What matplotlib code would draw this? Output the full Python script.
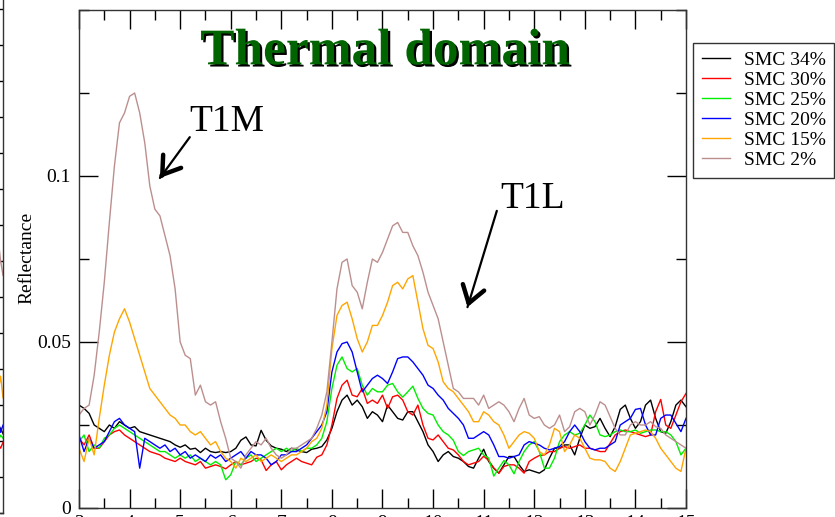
import numpy as np
import matplotlib
matplotlib.use("Agg")
import matplotlib.pyplot as plt
import matplotlib.patheffects as pe
from matplotlib.ticker import MultipleLocator

plt.rcParams["font.family"] = ["Liberation Serif", "DejaVu Serif"]

# Wavelength grid (micrometres)
wavelength = np.round(np.arange(3.0, 15.0001, 0.1), 1)

smc_34 = [
    0.031, 0.030, 0.0285, 0.025, 0.024, 0.023, 0.025, 0.024, 0.026, 0.025,
    0.024, 0.0245, 0.023, 0.0225, 0.022, 0.0215, 0.021, 0.0205, 0.020, 0.019,
    0.0183, 0.019, 0.0177, 0.018, 0.0167, 0.018, 0.017, 0.0167, 0.017, 0.0167,
    0.017, 0.018, 0.0204, 0.0214, 0.019, 0.0187, 0.0234, 0.0204, 0.0187, 0.018,
    0.0177, 0.017, 0.018, 0.0175, 0.017, 0.0167, 0.0177, 0.018, 0.0185, 0.0205,
    0.024, 0.029, 0.0325, 0.034, 0.031, 0.0325, 0.0305, 0.027, 0.029, 0.028,
    0.026, 0.031, 0.029, 0.027, 0.0265, 0.029, 0.029, 0.026, 0.023, 0.019,
    0.017, 0.014, 0.016, 0.017, 0.0155, 0.015, 0.014, 0.0125, 0.012, 0.015,
    0.0177, 0.014, 0.012, 0.0105, 0.013, 0.0155, 0.0155, 0.013, 0.011, 0.0115,
    0.011, 0.0105, 0.0115, 0.015, 0.018, 0.018, 0.019, 0.019, 0.016, 0.021,
    0.025, 0.024, 0.0245, 0.027, 0.024, 0.0215, 0.0245, 0.0297, 0.031, 0.027,
    0.024, 0.026, 0.031, 0.0325, 0.027, 0.023, 0.0225, 0.026, 0.031, 0.0325,
    0.0305,
]

smc_30 = [
    0.021, 0.019, 0.022, 0.018, 0.018, 0.020, 0.022, 0.023, 0.0235, 0.022,
    0.021, 0.020, 0.019, 0.018, 0.017, 0.0165, 0.016, 0.015, 0.0145, 0.014,
    0.015, 0.014, 0.0135, 0.013, 0.014, 0.012, 0.0125, 0.013, 0.0125, 0.0118,
    0.013, 0.014, 0.013, 0.0135, 0.014, 0.015, 0.0145, 0.0113, 0.013, 0.014,
    0.0115, 0.013, 0.014, 0.015, 0.014, 0.0135, 0.013, 0.0153, 0.016, 0.019,
    0.025, 0.033, 0.037, 0.0385, 0.034, 0.0335, 0.036, 0.0315, 0.0325, 0.0315,
    0.034, 0.030, 0.0335, 0.034, 0.0325, 0.029, 0.028, 0.031, 0.025, 0.021,
    0.0205, 0.022, 0.020, 0.018, 0.0175, 0.016, 0.014, 0.013, 0.0135, 0.014,
    0.0156, 0.0143, 0.012, 0.0105, 0.0125, 0.013, 0.013, 0.012, 0.0105, 0.014,
    0.015, 0.0158, 0.016, 0.017, 0.017, 0.018, 0.0185, 0.018, 0.0185, 0.019,
    0.018, 0.018, 0.0175, 0.017, 0.017, 0.0195, 0.022, 0.023, 0.0235, 0.023,
    0.0225, 0.022, 0.0215, 0.022, 0.029, 0.0327, 0.025, 0.024, 0.028, 0.032,
    0.0345,
]

smc_25 = [
    0.020, 0.022, 0.017, 0.019, 0.018, 0.021, 0.022, 0.024, 0.025, 0.024,
    0.023, 0.022, 0.021, 0.020, 0.019, 0.018, 0.017, 0.017, 0.016, 0.015,
    0.016, 0.015, 0.016, 0.014, 0.015, 0.014, 0.013, 0.014, 0.013, 0.0085,
    0.010, 0.014, 0.013, 0.015, 0.016, 0.014, 0.015, 0.016, 0.017, 0.018,
    0.017, 0.018, 0.017, 0.018, 0.017, 0.018, 0.018, 0.019, 0.021, 0.026,
    0.036, 0.043, 0.0455, 0.042, 0.041, 0.042, 0.037, 0.034, 0.036, 0.035,
    0.035, 0.037, 0.0375, 0.035, 0.0334, 0.035, 0.0367, 0.033, 0.030, 0.0285,
    0.028, 0.025, 0.023, 0.022, 0.0204, 0.017, 0.0158, 0.017, 0.0175, 0.018,
    0.016, 0.015, 0.0096, 0.012, 0.0143, 0.013, 0.0103, 0.014, 0.017, 0.019,
    0.020, 0.017, 0.012, 0.012, 0.015, 0.020, 0.022, 0.023, 0.022, 0.0225,
    0.025, 0.028, 0.026, 0.022, 0.0215, 0.022, 0.023, 0.0235, 0.023, 0.023,
    0.0235, 0.0225, 0.023, 0.0235, 0.0235, 0.023, 0.023, 0.022, 0.020, 0.016,
    0.018,
]

smc_20 = [
    0.022, 0.017, 0.021, 0.018, 0.019, 0.020, 0.023, 0.026, 0.027, 0.025,
    0.024, 0.023, 0.012, 0.021, 0.020, 0.019, 0.018, 0.019, 0.017, 0.018,
    0.016, 0.017, 0.015, 0.016, 0.015, 0.014, 0.016, 0.015, 0.016, 0.014,
    0.015, 0.016, 0.017, 0.015, 0.017, 0.016, 0.016, 0.015, 0.013, 0.014,
    0.016, 0.016, 0.017, 0.017, 0.018, 0.019, 0.021, 0.023, 0.025, 0.029,
    0.041, 0.047, 0.0495, 0.050, 0.047, 0.041, 0.035, 0.037, 0.039, 0.040,
    0.039, 0.0375, 0.041, 0.045, 0.0455, 0.0455, 0.044, 0.042, 0.040, 0.037,
    0.036, 0.034, 0.0325, 0.030, 0.0285, 0.027, 0.025, 0.021, 0.021, 0.022,
    0.023, 0.022, 0.019, 0.0155, 0.0155, 0.015, 0.0155, 0.016, 0.019, 0.020,
    0.0195, 0.019, 0.018, 0.0175, 0.018, 0.0185, 0.020, 0.023, 0.025, 0.023,
    0.020, 0.018, 0.0175, 0.018, 0.018, 0.019, 0.020, 0.025, 0.026, 0.027,
    0.0297, 0.030, 0.025, 0.022, 0.022, 0.027, 0.028, 0.028, 0.0255, 0.023,
    0.027,
]

smc_15 = [
    0.018, 0.014, 0.021, 0.016, 0.027, 0.037, 0.046, 0.053, 0.057, 0.060,
    0.056, 0.051, 0.046, 0.041, 0.036, 0.034, 0.032, 0.030, 0.028, 0.027,
    0.025, 0.025, 0.023, 0.022, 0.023, 0.021, 0.019, 0.020, 0.017, 0.015,
    0.014, 0.012, 0.015, 0.014, 0.015, 0.016, 0.014, 0.015, 0.016, 0.015,
    0.014, 0.015, 0.016, 0.016, 0.017, 0.018, 0.020, 0.021, 0.024, 0.031,
    0.048, 0.058, 0.061, 0.062, 0.057, 0.051, 0.047, 0.050, 0.055, 0.055,
    0.058, 0.062, 0.067, 0.068, 0.066, 0.069, 0.070, 0.062, 0.054, 0.049,
    0.048, 0.044, 0.038, 0.036, 0.035, 0.033, 0.031, 0.029, 0.026, 0.026,
    0.029, 0.028, 0.026, 0.025, 0.022, 0.018, 0.020, 0.022, 0.023, 0.0225,
    0.021, 0.017, 0.016, 0.019, 0.024, 0.023, 0.017, 0.019, 0.022, 0.021,
    0.018, 0.015, 0.0145, 0.0145, 0.014, 0.012, 0.011, 0.014, 0.018, 0.022,
    0.0225, 0.023, 0.0235, 0.023, 0.021, 0.018, 0.016, 0.014, 0.012, 0.011,
    0.018,
]

smc_2 = [
    0.028, 0.030, 0.031, 0.040, 0.053, 0.068, 0.086, 0.103, 0.116, 0.119,
    0.124, 0.125, 0.119, 0.110, 0.097, 0.090, 0.088, 0.082, 0.076, 0.066,
    0.050, 0.046, 0.045, 0.034, 0.037, 0.032, 0.031, 0.032, 0.026, 0.021,
    0.015, 0.014, 0.012, 0.016, 0.018, 0.020, 0.019, 0.021, 0.018, 0.016,
    0.015, 0.016, 0.018, 0.018, 0.019, 0.020, 0.021, 0.024, 0.028, 0.035,
    0.050, 0.066, 0.074, 0.075, 0.067, 0.065, 0.060, 0.068, 0.075, 0.074,
    0.077, 0.081, 0.085, 0.086, 0.083, 0.083, 0.079, 0.076, 0.071, 0.065,
    0.061, 0.057, 0.050, 0.043, 0.036, 0.035, 0.033, 0.033, 0.033, 0.031,
    0.034, 0.030, 0.031, 0.032, 0.031, 0.029, 0.026, 0.030, 0.033, 0.028,
    0.027, 0.0275, 0.025, 0.024, 0.025, 0.028, 0.023, 0.0245, 0.029, 0.030,
    0.029, 0.025, 0.028, 0.032, 0.031, 0.0275, 0.024, 0.022, 0.022, 0.025,
    0.026, 0.025, 0.025, 0.026, 0.0245, 0.024, 0.022, 0.021, 0.020, 0.019,
    0.018,
]

series_labels = ["SMC 34%", "SMC 30%", "SMC 25%", "SMC 20%", "SMC 15%", "SMC 2%"]
series_colors = ["black", "#ff0000", "#00ee00", "#0000ff", "#ffa500", "#bc8f8f"]

# Tail end of the neighbouring (reflective domain) panel
prev_wavelength = [2.46, 2.48, 2.50]
prev_values = {
    "SMC 34%": [0.105, 0.118, 0.110],
    "SMC 30%": [0.095, 0.090, 0.098],
    "SMC 25%": [0.100, 0.108, 0.104],
    "SMC 20%": [0.130, 0.112, 0.122],
    "SMC 15%": [0.170, 0.190, 0.160],
    "SMC 2%": [0.380, 0.350, 0.330],
}

fig = plt.figure(figsize=(8.35, 5.17), dpi=100)

# neighbouring panel, mostly outside the canvas
axp = fig.add_axes([-0.30, 1 - 513 / 517, 0.3036, 1.003])
for lab, col in zip(series_labels, series_colors):
    axp.plot(prev_wavelength, prev_values[lab], color=col, lw=1.0)
axp.set_xlim(0.4, 2.50)
axp.set_ylim(0, 0.72)
axp.yaxis.set_major_locator(MultipleLocator(0.05))
axp.tick_params(axis="y", which="both", direction="in", right=True, left=False,
                labelleft=False, length=7, width=1)
axp.tick_params(axis="x", bottom=False, labelbottom=False)
for s in axp.spines.values():
    s.set_linewidth(1.0)
    s.set_color("#333333")

# main panel
ax = fig.add_axes([79 / 835, 1 - 508 / 517, 607 / 835, 498 / 517])
all_series = [smc_34, smc_30, smc_25, smc_20, smc_15, smc_2]
for vals, lab, col in zip(all_series, series_labels, series_colors):
    ax.plot(wavelength, vals, color=col, lw=1.0, label=lab)

ax.set_xlim(3, 15)
ax.set_ylim(0, 0.15)
ax.xaxis.set_major_locator(MultipleLocator(1))
ax.xaxis.set_minor_locator(MultipleLocator(0.5))
ax.yaxis.set_major_locator(MultipleLocator(0.05))
ax.yaxis.set_minor_locator(MultipleLocator(0.025))
ax.tick_params(which="both", direction="in", top=True, right=True, width=1,
               labelsize=14, colors="black")
ax.tick_params(which="major", length=14)
ax.tick_params(which="minor", length=7)
ax.tick_params(axis="y", pad=6)
ax.tick_params(axis="x", pad=5)
ax.set_yticks([0, 0.05, 0.1])
ax.set_yticklabels(["0", "0.05", "0.1"])
for s in ax.spines.values():
    s.set_linewidth(1.0)
    s.set_color("#333333")

fig.text(27 / 835, 1 - 258 / 517, "Reflectance", rotation=90, fontsize=14,
         ha="center", va="center")

ax.text(0.504, 0.915, "Thermal domain", transform=ax.transAxes, ha="center",
        va="center", fontsize=37, fontweight="bold", color="#006400",
        path_effects=[pe.SimplePatchShadow(offset=(1.6, -1.6),
                                           shadow_rgbFace="black", alpha=1.0),
                      pe.Normal()])

# band annotations
def band_arrow(label, text_xy, start, tip):
    ax.text(text_xy[0], text_xy[1], label, fontsize=27, ha="left",
            va="baseline")
    ax.annotate("", xy=tip, xytext=start,
                arrowprops=dict(arrowstyle="-", lw=1.6, color="black",
                                shrinkA=0, shrinkB=0))
    back = (tip[0] + 0.06 * (start[0] - tip[0]),
            tip[1] + 0.06 * (start[1] - tip[1]))
    ax.annotate("", xy=tip, xytext=back,
                arrowprops=dict(arrowstyle="->,head_length=1.2,head_width=0.8",
                                lw=3.2, color="black", shrinkA=0, shrinkB=0))

band_arrow("T1M", (5.19, 0.1135), (5.19, 0.1117), (4.60, 0.0994))
band_arrow("T1L", (11.32, 0.0905), (11.26, 0.0895), (10.68, 0.0605))

leg = ax.legend(loc="upper left", bbox_to_anchor=(693 / 835, 1 - 42.7 / 517),
                bbox_transform=fig.transFigure, fontsize=14, frameon=True,
                fancybox=False, shadow=False, handlelength=1.45,
                handletextpad=0.7, labelspacing=0.12, borderpad=0.45,
                borderaxespad=0)
leg.get_frame().set_edgecolor("black")
leg.get_frame().set_linewidth(1.0)
for line in leg.get_lines():
    line.set_linewidth(1.0)

fig.savefig("out.png", dpi=100)
